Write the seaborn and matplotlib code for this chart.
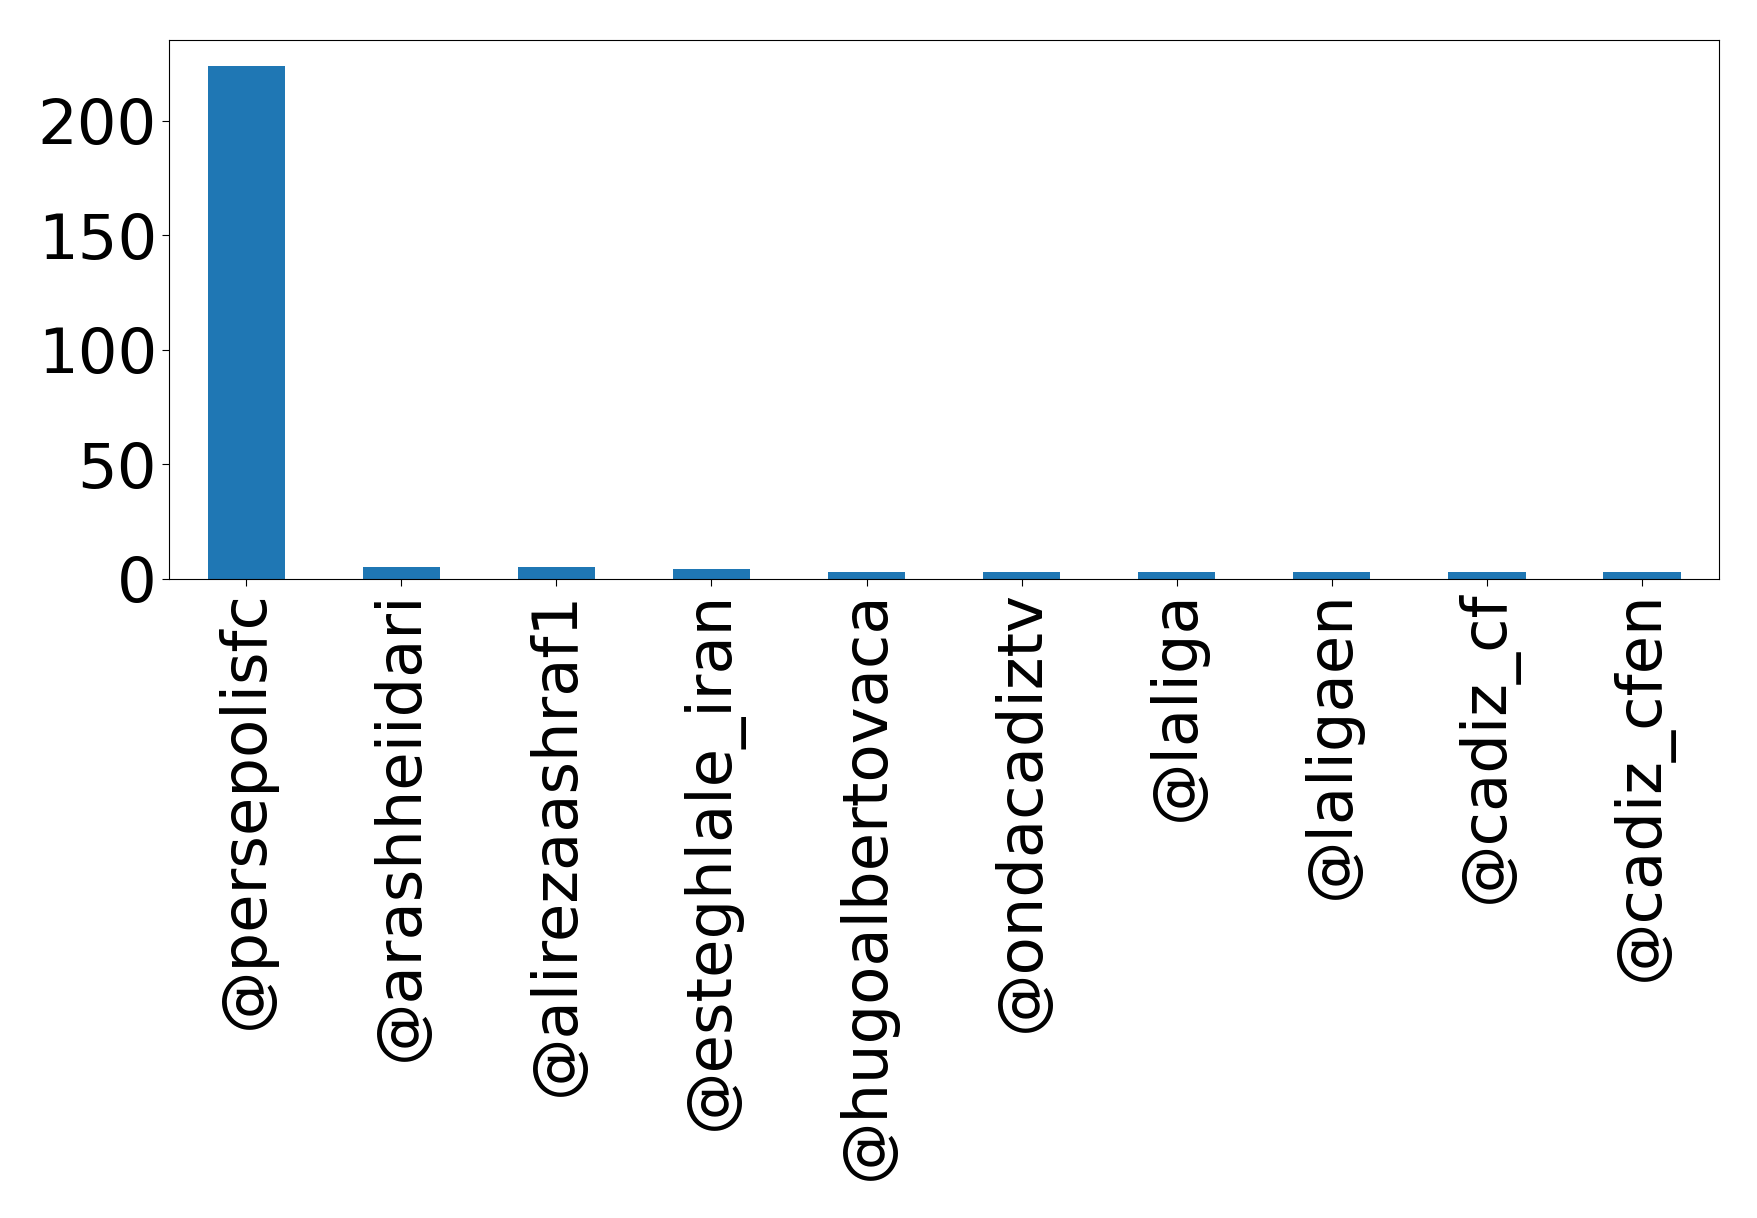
import matplotlib
matplotlib.use("Agg")
import matplotlib.pyplot as plt
import seaborn as sns
import pandas as pd

accounts = ["@persepolisfc", "@arashheiidari", "@alirezaashraf1", "@esteghlale_iran",
            "@hugoalbertovaca", "@ondacadiztv", "@laliga", "@laligaen", "@cadiz_cf", "@cadiz_cfen"]
counts = [224, 5, 5, 4, 3, 3, 3, 3, 3, 3]

df = pd.DataFrame({"account": accounts, "count": counts})

fig = plt.figure(figsize=(17.58, 12.18), dpi=100)
ax = fig.add_axes([0.096, 0.525, 0.882, 0.442])
sns.barplot(data=df, x="account", y="count", color="#1f77b4", saturation=1,
            width=0.5, ax=ax)
ax.set_xlim(-0.5, len(accounts) - 0.5)
ax.set_ylim(0, max(counts) * 1.05)
ax.set_xlabel("")
ax.set_ylabel("")
ax.set_yticks([0, 50, 100, 150, 200])
ax.tick_params(axis="both", labelsize=45, length=5)
plt.setp(ax.get_xticklabels(), rotation=90)
fig.savefig("out.png", dpi=100)
